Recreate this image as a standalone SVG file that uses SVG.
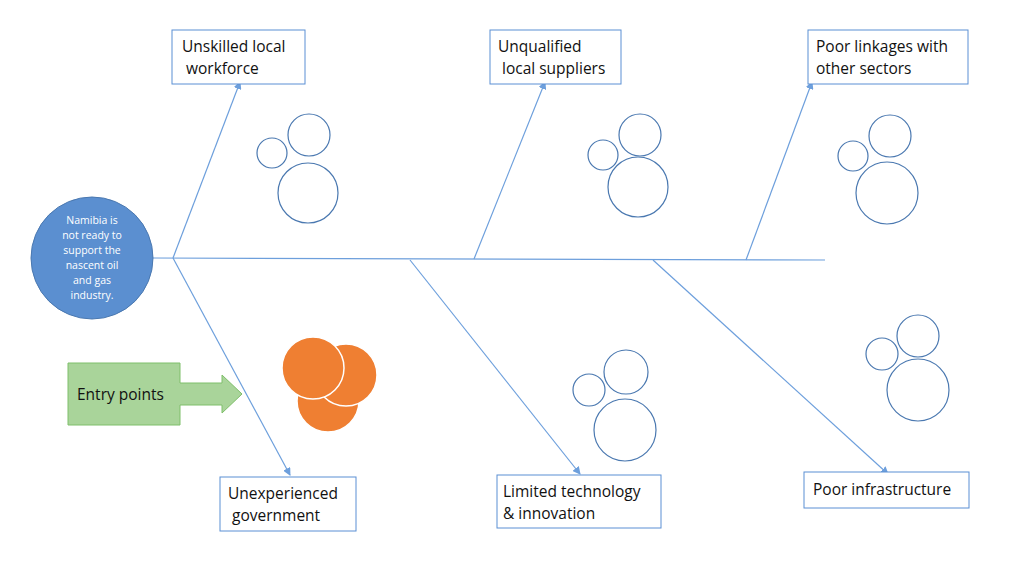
<svg xmlns="http://www.w3.org/2000/svg" width="1024" height="566" viewBox="0 0 1024 566">
<style>
.box{fill:#fff;stroke:#5b8fd4;stroke-width:1}
.t{font-family:"Open Sans","Liberation Sans",sans-serif;font-size:15.5px;fill:#111}
.b{fill:none;stroke:#4a78b0;stroke-width:1.2}
.ln{stroke:#6d9fdc;stroke-width:1.2;fill:none}
.o{fill:#ef7f32;stroke:#fff;stroke-width:1.5}
</style>
<defs><marker id="a" markerWidth="8" markerHeight="8" refX="7" refY="4" orient="auto" markerUnits="userSpaceOnUse"><path d="M0,0 L8,4 L0,8 z" fill="#6d9fdc"/></marker></defs>
<rect width="1024" height="566" fill="#fff"/>
<g id="connectors">
<line class="ln" x1="153" y1="258" x2="825" y2="260" stroke-width="2"/>
<line class="ln" x1="173" y1="258" x2="240" y2="82" marker-end="url(#a)"/>
<line class="ln" x1="173" y1="258" x2="290" y2="475" marker-end="url(#a)"/>
<line class="ln" x1="474" y1="259" x2="545" y2="82" marker-end="url(#a)"/>
<line class="ln" x1="410" y1="260" x2="580" y2="474" marker-end="url(#a)"/>
<line class="ln" x1="746" y1="260" x2="812" y2="82" marker-end="url(#a)"/>
<line class="ln" x1="653" y1="260" x2="888" y2="474" marker-end="url(#a)"/>
</g>
<g id="head"><circle cx="92" cy="258" r="61" fill="#5b8fd0" stroke="#4a78b0"/>
<text font-family="Open Sans,Liberation Sans,sans-serif" font-size="10.5" fill="#fff" text-anchor="middle"><tspan x="92" y="224">Namibia is</tspan><tspan x="92" y="239">not ready to</tspan><tspan x="92" y="254">support the</tspan><tspan x="92" y="269">nascent oil</tspan><tspan x="92" y="284">and gas</tspan><tspan x="92" y="299">industry.</tspan></text></g>
<g id="n1"><rect class="box" x="172" y="30" width="133" height="54"/><text class="t"><tspan x="182" y="52">Unskilled local</tspan><tspan x="186" y="74">workforce</tspan></text></g>
<g id="n2"><rect class="box" x="490" y="30" width="131" height="54"/><text class="t"><tspan x="498" y="52">Unqualified</tspan><tspan x="502" y="74">local suppliers</tspan></text></g>
<g id="n3"><rect class="box" x="808" y="30" width="160" height="54"/><text class="t"><tspan x="816" y="52">Poor linkages with</tspan><tspan x="816" y="74">other sectors</tspan></text></g>
<g id="n4"><rect class="box" x="220" y="477" width="136" height="54"/><text class="t"><tspan x="228" y="499">Unexperienced</tspan><tspan x="232" y="521">government</tspan></text></g>
<g id="n5"><rect class="box" x="497" y="475" width="164" height="53"/><text class="t"><tspan x="503" y="497">Limited technology</tspan><tspan x="503" y="519">&amp;  innovation</tspan></text></g>
<g id="n6"><rect class="box" x="804" y="472" width="165" height="36"/><text class="t" x="813" y="495">Poor infrastructure</text></g>
<g id="entry"><path d="M68,363 H180 V383 H222 V375 L242,394 L222,413 V405 H180 V425 H68 Z" fill="#a9d49a" stroke="#7fbf6a"/><text class="t" x="77" y="400" font-size="16">Entry points</text></g>
<g id="orange"><circle class="o" cx="328" cy="401" r="31"/><circle class="o" cx="346" cy="375" r="31"/><circle class="o" cx="313" cy="368" r="31"/></g>
<g id="bubbles">
<circle class="b" cx="272" cy="153" r="15"/><circle class="b" cx="309" cy="135" r="21"/><circle class="b" cx="308" cy="193" r="30"/>
<circle class="b" cx="603" cy="155" r="15"/><circle class="b" cx="640" cy="135" r="21"/><circle class="b" cx="638" cy="187" r="30"/>
<circle class="b" cx="853" cy="156" r="15"/><circle class="b" cx="890" cy="136" r="21"/><circle class="b" cx="887" cy="193" r="31"/>
<circle class="b" cx="882" cy="354" r="16"/><circle class="b" cx="918" cy="336" r="21"/><circle class="b" cx="918" cy="390" r="31"/>
<circle class="b" cx="589" cy="390" r="16"/><circle class="b" cx="626" cy="372" r="22"/><circle class="b" cx="625" cy="430" r="31"/>
</g>
</svg>
